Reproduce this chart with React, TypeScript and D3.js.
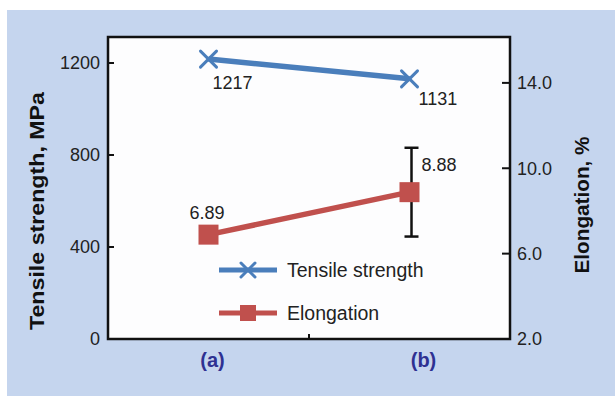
import React from 'react';
import * as d3 from 'd3';

// chart values
const categories = ['(a)', '(b)'];
const tensile = [1217, 1131];
const elongation = [6.89, 8.88];
const elongationErr = [0, 2.08];
const leftTicks = [0, 400, 800, 1200];
const rightTicks = [2, 6, 10, 14];

const W = 615;
const H = 396;
const frame = { left: 108, right: 510, top: 37, bottom: 339 };

const BLUE = '#4a7ebb';
const RED = '#c0504d';
const NAVY = '#2e3192';
const FONT = 'Liberation Sans, Arial, sans-serif';

const App = () => {
  // scales
  const x = d3.scaleBand<string>().domain(categories).range([frame.left, frame.right]);
  const cx = (c: string) => (x(c) as number) + x.bandwidth() / 2;
  const yLeft = d3.scaleLinear().domain([0, 1313]).range([frame.bottom, frame.top]);
  const yRight = d3.scaleLinear().domain([2, 16.15]).range([frame.bottom, frame.top]);

  const line = d3.line<[number, number]>();
  const tensilePts: [number, number][] = categories.map((c, i) => [cx(c), yLeft(tensile[i])]);
  const elongPts: [number, number][] = categories.map((c, i) => [cx(c), yRight(elongation[i])]);

  const cross = (px: number, py: number, r: number, color: string, key?: string) => (
    <g key={key} stroke={color} strokeWidth={3} strokeLinecap="round">
      <line x1={px - r} y1={py - r} x2={px + r} y2={py + r} />
      <line x1={px - r} y1={py + r} x2={px + r} y2={py - r} />
    </g>
  );

  const sq = 20;
  const legendX = 219;
  const legendY = [270, 313];

  return (
    <svg width={W} height={H} style={{ position: 'absolute', left: 0, top: 0 }} fontFamily={FONT}>
      <rect x={0} y={0} width={W} height={H} fill="#ffffff" />
      <rect x={7} y={10} width={W - 7} height={H - 10} fill="#c5d5ee" />
      <rect
        x={frame.left}
        y={frame.top}
        width={frame.right - frame.left}
        height={frame.bottom - frame.top}
        fill="#fdfdfe"
      />

      {/* left axis ticks */}
      {leftTicks.map((t) => (
        <g key={'l' + t}>
          <line x1={frame.left} x2={frame.left + 6} y1={yLeft(t)} y2={yLeft(t)} stroke="#111" strokeWidth={2} />
          <text x={frame.left - 8} y={yLeft(t)} dy="0.35em" textAnchor="end" fontSize={18} fill="#222">
            {t}
          </text>
        </g>
      ))}

      {/* right axis ticks */}
      {rightTicks.map((t) => (
        <g key={'r' + t}>
          <line x1={frame.right - 8} x2={frame.right} y1={yRight(t)} y2={yRight(t)} stroke="#111" strokeWidth={2} />
          <text x={frame.right + 7} y={yRight(t)} dy="0.35em" textAnchor="start" fontSize={18} fill="#222">
            {t.toFixed(1)}
          </text>
        </g>
      ))}

      {/* category boundary tick */}
      <line
        x1={frame.left + x.step()}
        x2={frame.left + x.step()}
        y1={frame.bottom}
        y2={frame.bottom - 5}
        stroke="#111"
        strokeWidth={2}
      />

      {/* category labels */}
      {categories.map((c, i) => (
        <text key={c} x={cx(c) + (i === 0 ? 4 : 14)} y={360} dy="0.35em" textAnchor="middle" fontSize={20} fontWeight="bold" fill={NAVY}>
          {c}
        </text>
      ))}

      {/* axis titles */}
      <text
        transform={`translate(37,211) rotate(-90)`}
        textAnchor="middle"
        dy="0.35em"
        fontSize={20}
        fontWeight="bold"
        fill="#111"
        textLength={238}
        lengthAdjust="spacingAndGlyphs"
      >
        Tensile strength, MPa
      </text>
      <text
        transform={`translate(582,205) rotate(-90)`}
        textAnchor="middle"
        dy="0.35em"
        fontSize={20}
        fontWeight="bold"
        fill="#111"
        textLength={137}
        lengthAdjust="spacingAndGlyphs"
      >
        Elongation, %
      </text>

      {/* tensile strength series */}
      <path d={line(tensilePts) || ''} fill="none" stroke={BLUE} strokeWidth={5.5} />
      {tensilePts.map(([px, py], i) => cross(px, py, 8, BLUE, 't' + i))}
      {tensilePts.map(([px, py], i) => (
        <text key={'tl' + i} x={px + (i === 0 ? 4 : 9)} y={py + (i === 0 ? 30 : 26)} fontSize={18} fill="#222">
          {tensile[i]}
        </text>
      ))}

      {/* elongation series */}
      {categories.map((c, i) =>
        elongationErr[i] > 0 ? (
          <g key={'e' + i} stroke="#111" strokeWidth={2.5}>
            <line x1={cx(c) + 2} x2={cx(c) + 2} y1={yRight(elongation[i] + elongationErr[i])} y2={yRight(elongation[i] - elongationErr[i])} />
            <line x1={cx(c) - 5} x2={cx(c) + 9} y1={yRight(elongation[i] + elongationErr[i])} y2={yRight(elongation[i] + elongationErr[i])} />
            <line x1={cx(c) - 5} x2={cx(c) + 9} y1={yRight(elongation[i] - elongationErr[i])} y2={yRight(elongation[i] - elongationErr[i])} />
          </g>
        ) : null
      )}
      <path d={line(elongPts) || ''} fill="none" stroke={RED} strokeWidth={5.5} />
      {elongPts.map(([px, py], i) => (
        <rect key={'s' + i} x={px - sq / 2} y={py - sq / 2} width={sq} height={sq} fill={RED} />
      ))}
      {elongPts.map(([px, py], i) => (
        <text key={'el' + i} x={i === 0 ? px - 19 : px + 12} y={i === 0 ? py - 16 : py - 21} fontSize={18} fill="#222">
          {elongation[i].toFixed(2)}
        </text>
      ))}

      {/* frame */}
      <rect
        x={frame.left}
        y={frame.top}
        width={frame.right - frame.left}
        height={frame.bottom - frame.top}
        fill="none"
        stroke="#111"
        strokeWidth={2.5}
      />

      {/* legend */}
      <line x1={legendX} x2={legendX + 58} y1={legendY[0]} y2={legendY[0]} stroke={BLUE} strokeWidth={5} />
      {cross(legendX + 29, legendY[0], 7, BLUE)}
      <text x={287} y={legendY[0]} dy="0.35em" fontSize={19.5} fill="#222">
        Tensile strength
      </text>
      <line x1={legendX} x2={legendX + 58} y1={legendY[1]} y2={legendY[1]} stroke={RED} strokeWidth={5} />
      <rect x={legendX + 29 - 8} y={legendY[1] - 8} width={16} height={16} fill={RED} />
      <text x={287} y={legendY[1]} dy="0.35em" fontSize={19.5} fill="#222">
        Elongation
      </text>
    </svg>
  );
};

export default App;
